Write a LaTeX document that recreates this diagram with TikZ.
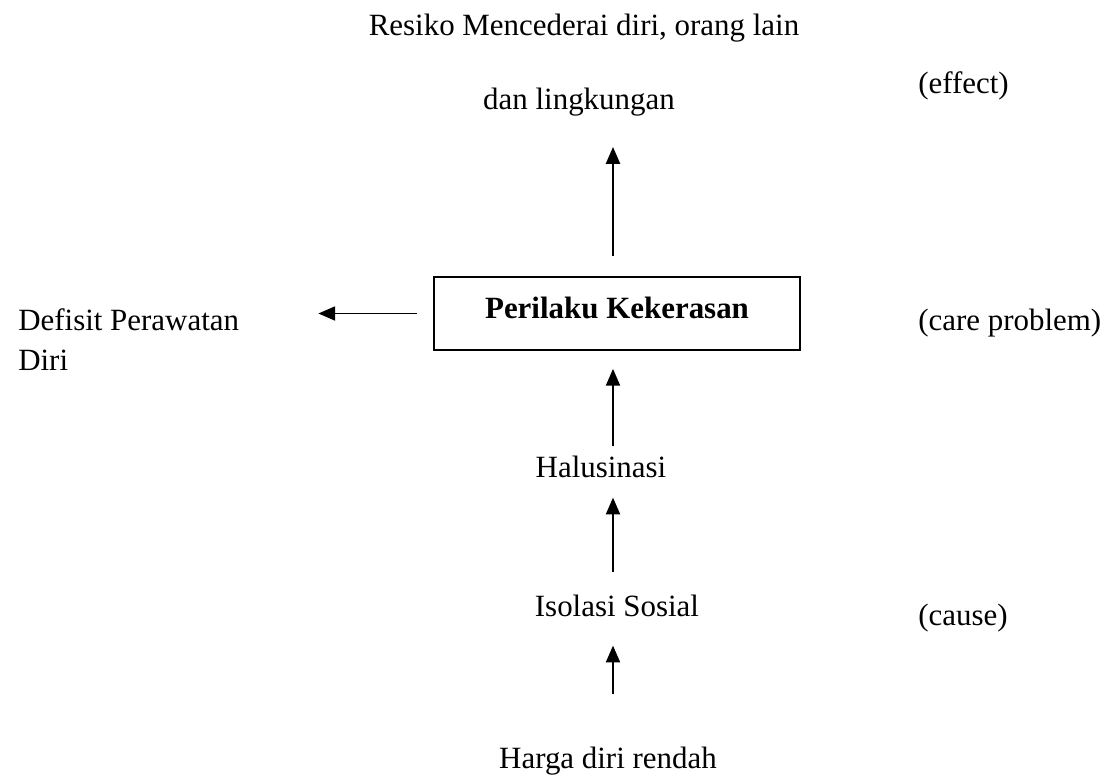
\documentclass[tikz,border=0pt]{standalone}
\usepackage{fontspec}
\setmainfont{Liberation Serif}
\usetikzlibrary{arrows.meta}
\tikzstyle{txt}=[inner sep=0pt, anchor=base, font=\fontsize{22}{28.4}\selectfont]
\tikzstyle{problem}=[draw, line width=1.2pt, minimum width=9.15cm, minimum height=1.825cm, inner sep=0pt, text height=0.525cm, text depth=0.3cm, font=\fontsize{22}{28.4}\selectfont\bfseries]
\tikzstyle{edge} = [draw, line width=1.4pt, -{Triangle[length=12pt,width=10pt]}]
\begin{document}
\begin{tikzpicture}

  \def\u{0.025};
  \useasboundingbox (0,0) rectangle (1114*\u, -782*\u);

  % middle column
  \foreach \x/\y/\name/\label in {584/35/res/{Resiko Mencederai diri, orang lain}, 579/109/dan/{dan lingkungan},
      601/477/hal/Halusinasi, 617/616/iso/{Isolasi Sosial}, 608/768/harga/{Harga diri rendah}}
        \node[txt] (\name) at (\x*\u, -\y*\u) {\label};

  % right column
  \foreach \y/\name/\label in {93/effect/(effect), 330/care/(care problem), 625/cause/(cause)}
        \node[txt, anchor=base west] (\name) at (918*\u, -\y*\u) {\label};

  \node[problem] (pk) at (617*\u, -313.5*\u) {Perilaku Kekerasan};
  \node[txt, anchor=base west, align=left] (def) at (18*\u, -370*\u) {Defisit Perawatan\\Diri};

  \coordinate (axis) at (613*\u, 0);

  \foreach \source/\dest/\sa/\sb in {pk/dan/0.5cm/0.775cm}
        \draw[edge, shorten <=\sa, shorten >=\sb] (\source.north -| axis) -- (\dest.south -| axis);
  \foreach \source/\dest/\sa/\sb in {hal/pk/0.225cm/0.45cm, iso/hal/0.55cm/0.5cm, harga/iso/1.3cm/0.725cm}
        \draw[edge, shorten <=\sa, shorten >=\sb] (\source.north -| axis) -- (\dest.south -| axis);

  \draw[edge, shorten <=0.4cm, shorten >=1.975cm] (pk.west) -- (pk.west -| def.east);

\end{tikzpicture}
\end{document}
